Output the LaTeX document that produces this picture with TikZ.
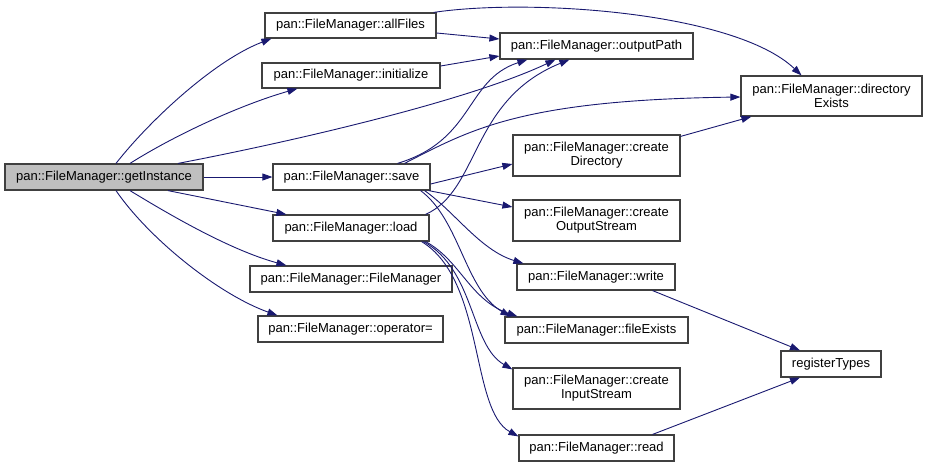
\documentclass[tikz,border=0pt]{standalone}
\usepackage{fontspec}
\setmainfont{Liberation Sans}
\usetikzlibrary{arrows.meta}
\definecolor{edgeblue}{HTML}{191970}
\definecolor{boxline}{HTML}{404040}
\definecolor{curfill}{HTML}{BFBFBF}
\begin{document}
\begin{tikzpicture}[x=1pt,y=-1pt,
  fn/.style={draw=boxline,line width=1.2pt,fill=white,inner sep=0pt,align=center,
    font=\fontsize{13}{14}\selectfont},
  lnk/.style={draw=edgeblue,line width=0.9pt,-{Triangle[length=10pt,width=7pt]}}]
\useasboundingbox (0,0) rectangle (927,467);
% nodes
\node[fn,fill=curfill,minimum width=198pt,minimum height=26pt] (gi) at (104,177) {pan::FileManager::getInstance};
\node[fn,minimum width=171pt,minimum height=25pt] (af) at (350.5,25.5) {pan::FileManager::allFiles};
\node[fn,minimum width=178pt,minimum height=25pt] (init) at (351,75.5) {pan::FileManager::initialize};
\node[fn,minimum width=193pt,minimum height=26pt] (op) at (596.5,46) {pan::FileManager::outputPath};
\node[fn,minimum width=181pt,minimum height=40pt] (de) at (831.5,96) {pan::FileManager::directory\\Exists};
\node[fn,minimum width=157pt,minimum height=26pt] (sv) at (351.5,177) {pan::FileManager::save};
\node[fn,minimum width=156pt,minimum height=26pt] (ld) at (351,228) {pan::FileManager::load};
\node[fn,minimum width=167pt,minimum height=41pt] (cd) at (596.5,155.5) {pan::FileManager::create\\Directory};
\node[fn,minimum width=167pt,minimum height=41pt] (cos) at (596.5,220.5) {pan::FileManager::create\\OutputStream};
\node[fn,minimum width=202pt,minimum height=26pt] (fm) at (351,279) {pan::FileManager::FileManager};
\node[fn,minimum width=185pt,minimum height=26pt] (opeq) at (350.5,329) {pan::FileManager::operator=};
\node[fn,minimum width=158pt,minimum height=26pt] (wr) at (596,277) {pan::FileManager::write};
\node[fn,minimum width=183pt,minimum height=26pt] (fe) at (596.5,330) {pan::FileManager::fileExists};
\node[fn,minimum width=167pt,minimum height=41pt] (cis) at (596.5,388.5) {pan::FileManager::create\\InputStream};
\node[fn,minimum width=155pt,minimum height=26pt] (rd) at (596.5,448) {pan::FileManager::read};
\node[fn,minimum width=100pt,minimum height=26pt] (rt) at (831,364) {registerTypes};
% edges from getInstance
\draw[lnk] ([xshift=12pt]gi.north) .. controls (150,120) and (215,60) .. ([xshift=7pt]af.south west);
\draw[lnk] ([xshift=26pt]gi.north) .. controls (175,135) and (240,105) .. ([xshift=36pt]init.south west);
\draw[lnk] ([xshift=74pt]gi.north) .. controls (300,140) and (470,100) .. ([xshift=56pt]op.south west);
\draw[lnk] (gi.east) -- (sv.west);
\draw[lnk] ([xshift=64pt]gi.south) -- ([xshift=14pt]ld.north west);
\draw[lnk] ([xshift=26pt]gi.south) .. controls (170,215) and (230,250) .. ([xshift=37pt]fm.north west);
\draw[lnk] ([xshift=12pt]gi.south) .. controls (150,240) and (220,295) .. ([xshift=20pt]opeq.north west);
% allFiles, initialize
\draw[lnk] ([yshift=-7.5pt]af.east) -- ([yshift=7pt]op.west);
\draw[lnk] ([xshift=-3pt]af.north east) .. controls (530,-2) and (735,12) .. ([xshift=-30pt]de.north);
\draw[lnk] ([yshift=9.5pt]init.east) -- ([yshift=-10pt]op.west);
% save
\draw[lnk] ([xshift=46pt]sv.north) .. controls (475,140) and (465,80) .. ([xshift=28pt]op.south west);
\draw[lnk] ([xshift=53pt]sv.north) .. controls (470,130) and (520,100) .. ([yshift=-1pt]de.west);
\draw[lnk] ([yshift=-7pt]sv.east) -- ([yshift=-8.5pt]cd.west);
\draw[lnk] ([xshift=-2pt]sv.south east) -- ([yshift=13.5pt]cos.west);
\draw[lnk] ([xshift=-6pt]sv.south east) .. controls (455,212) and (480,250) .. ([xshift=7pt]wr.north west);
\draw[lnk] ([xshift=-10pt]sv.south east) .. controls (460,220) and (465,290) .. ([xshift=6pt]fe.north west);
% load
\draw[lnk] ([xshift=-4pt]ld.north east) .. controls (480,190) and (470,100) .. ([xshift=70pt]op.south west);
\draw[lnk] ([xshift=-4pt]ld.south east) .. controls (460,260) and (470,300) .. ([xshift=13pt]fe.north west);
\draw[lnk] ([xshift=-6pt]ld.south east) .. controls (475,270) and (470,345) .. ([yshift=-2pt]cis.north west);
\draw[lnk] ([xshift=-8pt]ld.south east) .. controls (485,280) and (470,410) .. ([yshift=-2pt]rd.north west);
% others
\draw[lnk] ([yshift=-2pt]cd.north east) -- ([xshift=11pt]de.south west);
\draw[lnk] ([xshift=-23pt]wr.south east) -- ([xshift=-31pt]rt.north);
\draw[lnk] ([xshift=-22pt]rd.north east) -- ([xshift=-31pt]rt.south);
\end{tikzpicture}
\end{document}
